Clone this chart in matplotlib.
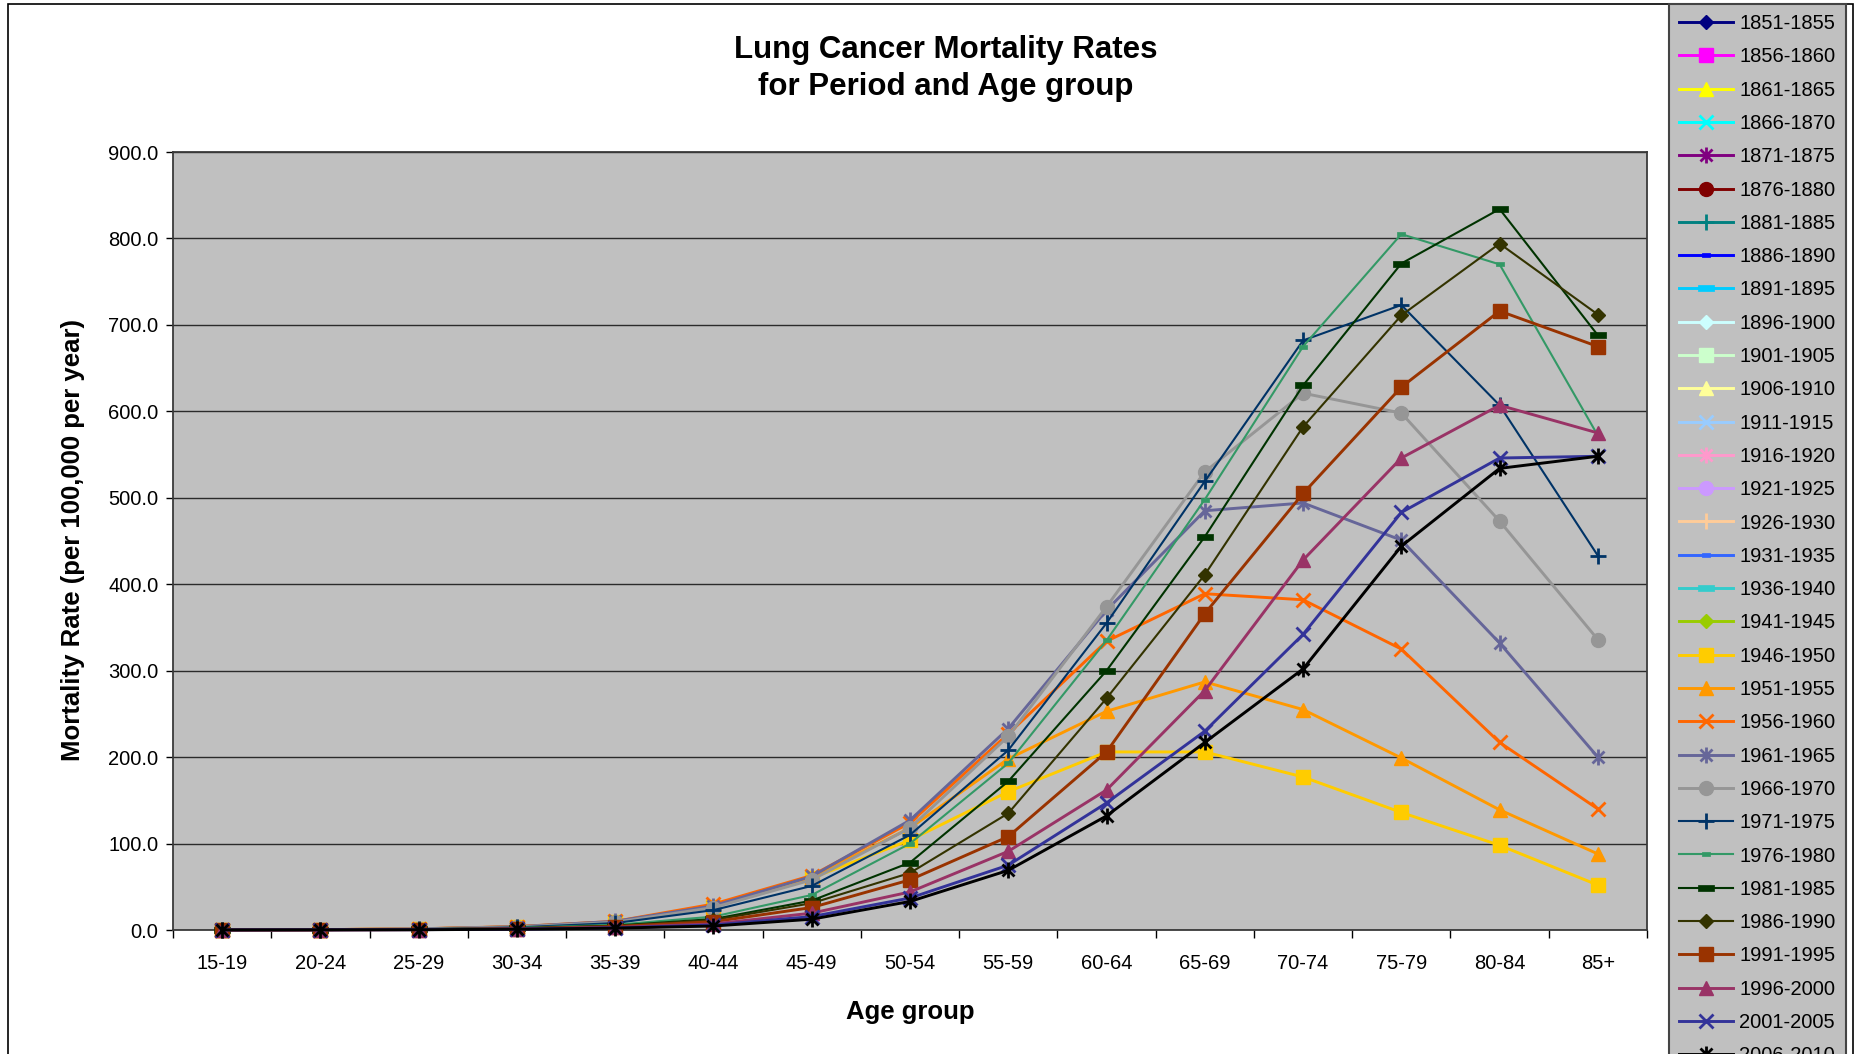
import matplotlib
matplotlib.use('Agg')
import matplotlib.pyplot as plt
from matplotlib.path import Path
from matplotlib.patches import Rectangle
from matplotlib.ticker import FormatStrFormatter

plt.rcParams['font.family'] = ['Liberation Sans', 'DejaVu Sans']

# age groups on the x axis
ages = ['15-19', '20-24', '25-29', '30-34', '35-39', '40-44', '45-49', '50-54',
        '55-59', '60-64', '65-69', '70-74', '75-79', '80-84', '85+']

# all periods in the legend (the early ones have no data in the chart)
periods = ['1851-1855', '1856-1860', '1861-1865', '1866-1870', '1871-1875',
           '1876-1880', '1881-1885', '1886-1890', '1891-1895', '1896-1900',
           '1901-1905', '1906-1910', '1911-1915', '1916-1920', '1921-1925',
           '1926-1930', '1931-1935', '1936-1940', '1941-1945', '1946-1950',
           '1951-1955', '1956-1960', '1961-1965', '1966-1970', '1971-1975',
           '1976-1980', '1981-1985', '1986-1990', '1991-1995', '1996-2000',
           '2001-2005', '2006-2010']

# mortality rate per 100,000 per year
r_1946 = [0.1, 0.4, 1.2, 3.5, 9.0, 27, 60, 104, 160, 206, 206, 177, 136, 98, 52]
r_1951 = [0.1, 0.4, 1.3, 3.8, 9.5, 28, 61, 118, 198, 253, 287, 255, 199, 139, 88]
r_1956 = [0.1, 0.4, 1.4, 4.0, 10.0, 30, 63, 124, 227, 334, 389, 382, 325, 217, 140]
r_1961 = [0.1, 0.4, 1.3, 3.8, 10.0, 28, 62, 127, 233, 370, 485, 494, 451, 332, 200]
r_1966 = [0.1, 0.3, 1.2, 3.5, 9.0, 26, 58, 118, 224, 374, 530, 621, 598, 473, 336]
r_1971 = [0.1, 0.3, 1.0, 3.0, 8.0, 23, 51, 110, 208, 355, 519, 682, 723, 607, 433]
r_1976 = [0.1, 0.3, 0.8, 2.5, 6.0, 15.5, 40.5, 100, 193, 335, 498, 675, 805, 770, 572]
r_1981 = [0.1, 0.2, 0.7, 2.0, 5.0, 12.7, 34, 78, 172, 300, 455, 630, 771, 834, 688]
r_1986 = [0.1, 0.2, 0.6, 1.8, 4.5, 11.6, 31, 66, 135, 268, 411, 582, 711, 794, 712]
r_1991 = [0.1, 0.2, 0.5, 1.5, 4.0, 9.6, 26, 58, 108, 206, 366, 505, 628, 716, 675]
r_1996 = [0.1, 0.2, 0.4, 1.2, 3.0, 7.0, 19.5, 44, 91, 162, 277, 428, 546, 607, 575]
r_2001 = [0.1, 0.2, 0.4, 1.0, 2.5, 5.8, 15.5, 37, 75, 147, 230, 342, 483, 546, 548]
r_2006 = [0.1, 0.2, 0.3, 0.9, 2.2, 4.6, 12.5, 33, 69, 132, 217, 302, 444, 534, 548]

rates = {
    '1946-1950': r_1946, '1951-1955': r_1951, '1956-1960': r_1956,
    '1961-1965': r_1961, '1966-1970': r_1966, '1971-1975': r_1971,
    '1976-1980': r_1976, '1981-1985': r_1981, '1986-1990': r_1986,
    '1991-1995': r_1991, '1996-2000': r_1996, '2001-2005': r_2001,
    '2006-2010': r_2006,
}

# excel 2003 style series colours
colors = ['#000080', '#FF00FF', '#FFFF00', '#00FFFF', '#800080', '#800000',
          '#008080', '#0000FF', '#00CCFF', '#CCFFFF', '#CCFFCC', '#FFFF99',
          '#99CCFF', '#FF99CC', '#CC99FF', '#FFCC99', '#3366FF', '#33CCCC',
          '#99CC00', '#FFCC00', '#FF9900', '#FF6600', '#666699', '#969696',
          '#003366', '#339966', '#003300', '#333300', '#993300', '#993366',
          '#333399', '#000000']

# marker shapes
star = Path([(0, -1), (0, 1), (-0.75, -0.75), (0.75, 0.75), (-0.75, 0.75), (0.75, -0.75)],
            [Path.MOVETO, Path.LINETO] * 3)
short_dash = [(-1, -0.5), (1, -0.5), (1, 0.5), (-1, 0.5), (-1, -0.5)]
long_dash = [(-1, -0.32), (1, -0.32), (1, 0.32), (-1, 0.32), (-1, -0.32)]
# (marker, size, edge width)
marker_cycle = [('D', 7, 1), ('s', 10, 1), ('^', 10, 1), ('x', 9.5, 2.0),
                (star, 11.5, 2.0), ('o', 10, 1), ('+', 11, 2.0),
                (short_dash, 6, 0.5), (long_dash, 11.5, 0.5)]
thin = {'1971-1975', '1976-1980', '1981-1985', '1986-1990'}

fig = plt.figure(figsize=(18.54, 10.54), dpi=100)
ax = fig.add_axes([173 / 1854, 1 - 930 / 1054, 1474 / 1854, 778 / 1054])
ax.set_facecolor('#C0C0C0')

x = list(range(len(ages)))
handles = []
for i, p in enumerate(periods):
    m, ms, mew = marker_cycle[i % 9]
    y = rates.get(p, [])
    lw = 1.5 if p in thin else 2.1
    h, = ax.plot(x[:len(y)], y, color=colors[i], lw=lw, marker=m, ms=ms,
                 mew=mew, mfc=colors[i], mec=colors[i], clip_on=False,
                 label=p, zorder=3)
    handles.append(h)

ax.set_xlim(-0.5, len(ages) - 0.5)
ax.set_ylim(0, 900)
ax.set_xticks(x)
ax.set_xticklabels(ages)
ax.set_xticks([k - 0.5 for k in range(len(ages) + 1)], minor=True)
ax.set_yticks(range(0, 901, 100))
ax.yaxis.set_major_formatter(FormatStrFormatter('%.1f'))
ax.tick_params(axis='x', which='major', length=0, pad=17.5, labelsize=14.5)
ax.tick_params(axis='x', which='minor', length=6, width=1, direction='out')
ax.tick_params(axis='y', length=5, width=1, pad=5.5, direction='out', labelsize=14.5)
ax.yaxis.grid(True, color='#2b2b2b', lw=1.0)
ax.set_axisbelow(True)
for s in ax.spines.values():
    s.set_color('#3a3a3a')
    s.set_linewidth(1.3)

ax.set_xlabel('Age group', fontsize=18.5, fontweight='bold')
ax.xaxis.set_label_coords(0.5, (930 - 1012) / 778)
ax.xaxis.label.set_va('center')
ax.set_ylabel('Mortality Rate (per 100,000 per year)', fontsize=18.5, fontweight='bold')
ax.yaxis.set_label_coords((73 - 173) / 1474, (930 - 540) / 778)
ax.yaxis.label.set_va('center')

fig.text(946 / 1854, 1 - 68.5 / 1054, 'Lung Cancer Mortality Rates\nfor Period and Age group',
         ha='center', va='center', fontsize=22.5, fontweight='bold', linespacing=1.3)

# chart area border (cut off at the bottom like the original screenshot)
fig.add_artist(Rectangle((8 / 1854, -0.1), (1853 - 8) / 1854, 0.1 + 1 - 4 / 1054,
                         transform=fig.transFigure, fill=False, ec='black', lw=1.2,
                         clip_on=False))

leg = fig.legend(handles, periods, loc='upper left',
                 bbox_to_anchor=(1669 / 1854, 1 - 4 / 1054), bbox_transform=fig.transFigure,
                 borderaxespad=0, fontsize=14.5, labelspacing=0.71, handlelength=2.7,
                 handletextpad=0.3, borderpad=0.5, numpoints=1, fancybox=False,
                 facecolor='#C0C0C0', edgecolor='#444444', framealpha=1)
leg.get_frame().set_linewidth(1.5)

fig.savefig('out.png', dpi=100)
